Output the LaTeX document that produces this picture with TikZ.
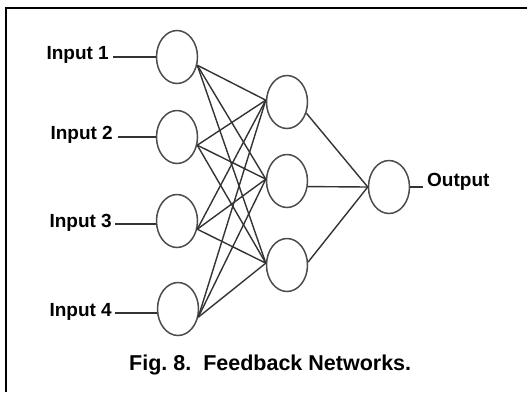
\documentclass[tikz,border=0pt]{standalone}
\usepackage{fontspec}
\setmainfont{Liberation Sans}
\usetikzlibrary{shapes.geometric}
\begin{document}
\begin{tikzpicture}[x=1pt,y=-1pt,
  neuron/.style={ellipse, draw=black!70, line width=1.5pt, minimum width=41pt, minimum height=53pt, inner sep=0pt},
  link/.style={draw=black!80, line width=1.4pt},
  lbl/.style={font=\fontsize{19}{22}\selectfont\bfseries, inner sep=0pt},
  frame/.style={line width=2.2pt, black}]
\useasboundingbox (0,0) rectangle (527,392);
\draw[frame] (6,392) -- (6,8) -- (527,8);

% input layer
\node[neuron] (i1) at (177,57) {};
\node[neuron] (i2) at (177,137) {};
\node[neuron] (i3) at (177,221) {};
\node[neuron] (i4) at (178,309) {};
% hidden layer
\node[neuron] (h1) at (287,102) {};
\node[neuron] (h2) at (287,181) {};
\node[neuron] (h3) at (287,265) {};
% output
\node[neuron] (o) at (389,187) {};

% labels
\node[lbl, anchor=base east] (t1) at (109,59) {Input 1};
\node[lbl, anchor=base east] (t2) at (113,139) {Input 2};
\node[lbl, anchor=base east] (t3) at (112,227) {Input 3};
\node[lbl, anchor=base east] (t4) at (112,316) {Input 4};
\node[lbl, anchor=base west] (tout) at (427,186) {Output};
\node[font=\fontsize{21.5}{24}\selectfont\bfseries, inner sep=0pt, anchor=base west] (cap) at (129,370) {Fig.\ 8.\ \ Feedback Networks.};

% input stubs
\coordinate (a1) at (113,57);
\coordinate (a2) at (118,137);
\coordinate (a3) at (115,224);
\coordinate (a4) at (115,313);
\draw[link] (a1) -- (i1.west);
\draw[link] (a2) -- (i2.west);
\draw[link] (a3) -- (i3.west |- a3);
\draw[link] (a4) -- (i4.west |- a4);
\coordinate (oe) at (423,187);
\draw[link] (o.east) -- (oe);

% input -> hidden
\foreach \i in {1,...,4}{
  \foreach \h in {1,2,3}{
    \draw[link] (i\i.-22) -- (h\h.175);
  }
}
% hidden -> output
\draw[link] (h1.-30) -- (o.west);
\draw[link] (h2.-15) -- (o.west);
\draw[link] (h3.8) -- (o.west);
\end{tikzpicture}
\end{document}
